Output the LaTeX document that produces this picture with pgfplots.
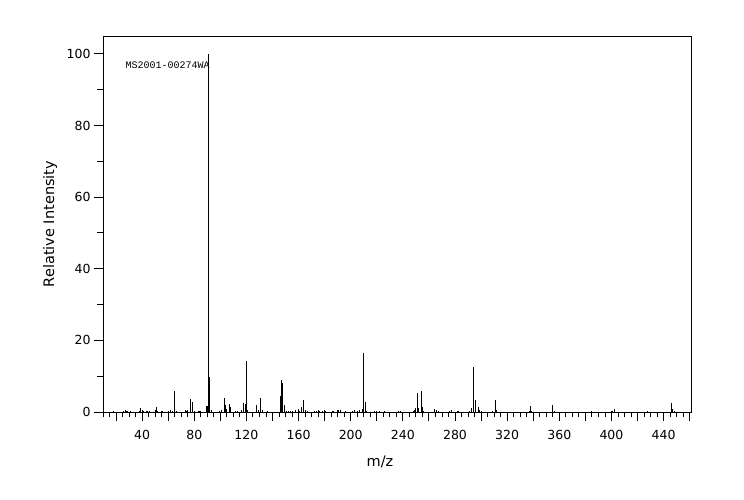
\documentclass[border=0pt]{standalone}
\usepackage{fontspec}
\setmainfont{DejaVu Sans}
\newfontfamily\monofont{Liberation Mono}
\usepackage{pgfplots}
\usepackage{pgfplotstable}
\pgfplotsset{compat=1.18}
\pgfplotstableread{
mz h
18 0.3
26 0.2
27 0.65
28 0.3
29 0.3
31 0.2
38 0.3
39 1.0
40 0.5
41 0.3
43 0.3
44 0.3
46 0.3
50 0.6
51 1.3
52 0.4
55 0.2
56 0.2
60 0.3
62 0.65
63 0.4
65 6.0
66 0.3
73 0.5
74 0.4
75 0.6
77 3.5
79 2.7
80 0.4
83 0.2
84 0.2
85 0.2
89 1.6
90 1.6
91 100
92 9.8
93 0.6
99 0.4
101 0.6
103 3.9
104 2.0
105 0.8
107 2.1
108 1.3
112 0.3
113 0.3
116 0.6
118 2.6
119 2.3
120 14.2
121 0.5
128 1.9
129 0.5
131 3.9
132 0.5
136 0.3
146 4.6
147 8.8
148 8.2
149 2.0
151 0.4
152 0.4
154 0.3
155 0.3
158 0.5
160 0.75
161 0.4
162 1.3
164 3.25
165 0.6
167 0.4
172 0.4
174 0.4
175 0.65
176 0.4
178 0.4
180 0.5
181 0.4
186 0.3
187 0.4
190 0.5
191 0.5
192 0.5
196 0.3
201 0.4
203 0.5
205 0.4
207 0.5
209 0.7
210 16.4
211 2.8
212 0.3
218 0.4
220 0.4
222 0.4
226 0.3
237 0.2
238 0.2
248 0.4
249 0.5
250 1.1
251 5.3
252 1.1
254 6.0
255 1.4
256 0.3
264 0.75
266 0.5
267 0.4
276 0.4
277 0.6
282 0.3
283 0.4
291 0.3
293 1.1
294 12.7
296 3.25
298 1.3
299 0.6
300 0.3
309 0.3
311 3.25
312 0.65
337 0.3
338 1.6
339 0.4
355 2.0
356 0.3
385 0.2
400 0.3
401 0.3
402 0.85
428 0.3
446 2.5
447 0.9
448 0.3
}\spectrum
\begin{document}
\begin{tikzpicture}
\path[use as bounding box] (0,0) rectangle (744pt,500pt);
\begin{axis}[
 at={(103pt,88pt)}, anchor=south west,
 width=588pt, height=376pt, scale only axis,
 xmin=10, xmax=461, ymin=0, ymax=105,
 xtick={20,40,...,460},
 xticklabels={,40,,80,,120,,160,,200,,240,,280,,320,,360,,400,,440,},
 minor xtick={10,15,...,460},
 ytick={0,20,...,100},
 minor ytick={10,30,...,90},
 tick align=outside, xtick pos=bottom, ytick pos=left,
 major tick length=9pt, minor tick length=5.5pt,
 tick style={black, line width=0.9pt},
 axis line style={line width=0.9pt},
 tick label style={font=\fontsize{12.5}{14}\selectfont},
 xticklabel style={yshift=-6pt},
 /pgf/number format/assume math mode=true,
 xlabel={m/z}, ylabel={Relative Intensity},
 label style={font=\fontsize{14.5}{16}\selectfont},
 xlabel style={at={(axis description cs:0.471,-0.133)}, anchor=center},
 ylabel style={at={(axis description cs:-0.090,0.5)}, anchor=center, rotate=0},
]
\addplot[ycomb, black, line width=1pt, mark=none] table[x=mz, y=h] {\spectrum};
\node[anchor=west, inner sep=0pt, font=\monofont\fontsize{10}{12}\selectfont] at (rel axis cs:0.038,0.923) {MS2001-00274WA};
\end{axis}
\end{tikzpicture}
\end{document}
